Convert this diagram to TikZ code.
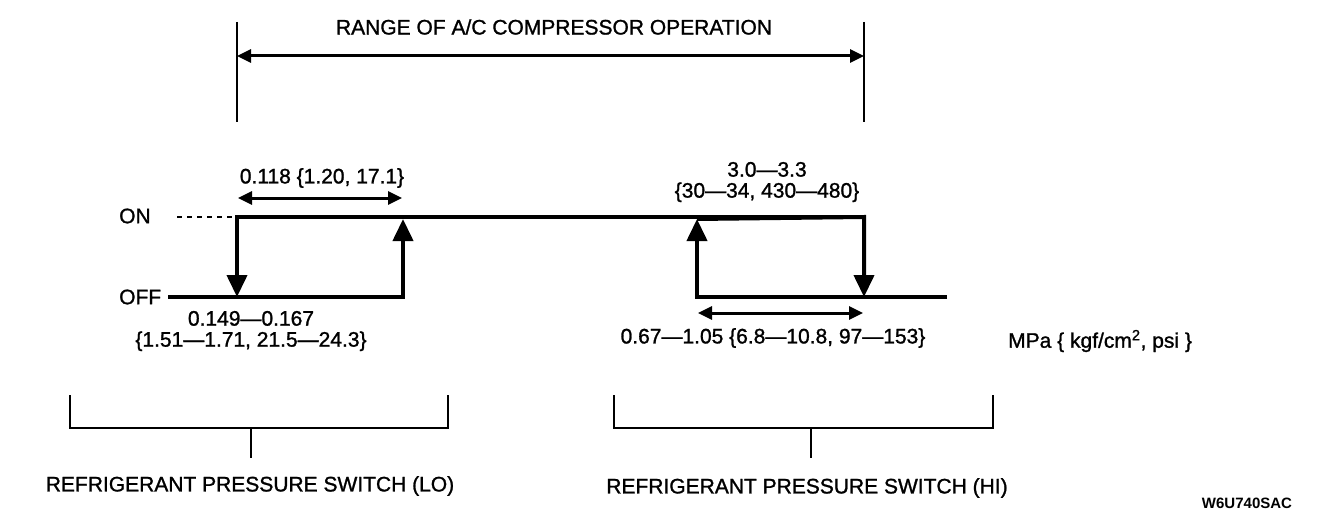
\documentclass[tikz,border=0pt]{standalone}
\usepackage{fontspec}
\setmainfont{Liberation Sans}
\newfontfamily\heavyfont[FakeBold=1.2]{Liberation Sans}
\usetikzlibrary{arrows.meta}
\begin{document}
\begin{tikzpicture}[x=1pt,y=-1pt,
  lbl/.style={font=\heavyfont\fontsize{21}{21}\selectfont,inner sep=0pt,align=center},
  wave/.style={line width=4pt},
  flip/.style={wave,-{Triangle[length=22pt,width=20pt]}},
  dim/.style={line width=3pt,{Triangle[length=14pt,width=13pt]}-{Triangle[length=14pt,width=13pt]}},
  brk/.style={line width=2pt}]
  \useasboundingbox (0,0) rectangle (1344,532);
  % range of compressor operation
  \coordinate (rl0) at (237,22); \coordinate (rl1) at (237,122);
  \coordinate (rr0) at (864,22); \coordinate (rr1) at (864,122);
  \coordinate (rl) at (237,56); \coordinate (rr) at (864,56);
  \draw[brk] (rl0)--(rl1) (rr0)--(rr1);
  \draw[dim] (rl)--(rr);
  \node[lbl] (title) at (554,27) {RANGE OF A/C COMPRESSOR OPERATION};
  % switch states
  \node[lbl,anchor=west] (on) at (119,216) {ON};
  \node[lbl,anchor=west] (off) at (119,297) {OFF};
  \coordinate (dot) at (177,217); \coordinate (offst) at (168,297);
  \coordinate (lon) at (237,217); \coordinate (loff) at (237,297);
  \coordinate (lup) at (403,297); \coordinate (lupt) at (403,219);
  \coordinate (hup) at (697,297); \coordinate (hupt) at (697,219);
  \coordinate (hdn) at (864,217); \coordinate (hdnb) at (864,297);
  \coordinate (hend) at (947,297);
  \draw[line width=1.5pt,dash pattern=on 5pt off 5pt] (dot)--(lon);
  \draw[flip] (hdn)--(lon)--(loff);
  \draw[flip] (offst)--(lup)--(lupt);
  \draw[flip] (hend)--(hup)--(hupt);
  \draw[flip] (hupt)--(hdn)--(hdnb);
  % hysteresis
  \coordinate (l1) at (238,198); \coordinate (l2) at (402,198);
  \coordinate (h1) at (698,313); \coordinate (h2) at (863,313);
  \draw[dim] (l1)--(l2);
  \draw[dim] (h1)--(h2);
  \node[lbl] (lohys) at (322,178) {0.118 \{1.20, 17.1\}};
  \node[lbl] (loon) at (251,331) {0.149—0.167\\\{1.51—1.71, 21.5—24.3\}};
  \node[lbl] (hioff) at (767,182) {3.0—3.3\\\{30—34, 430—480\}};
  \node[lbl] (hihys) at (773,338) {0.67—1.05 \{6.8—10.8, 97—153\}};
  \node[lbl,anchor=west] (unit) at (1008,341) {MPa \{ kgf/cm\textsuperscript{2}, psi \}};
  % switches
  \coordinate (bl1) at (70,395); \coordinate (bl2) at (448,395);
  \coordinate (blm) at (251,428); \coordinate (bls) at (251,458);
  \coordinate (bh1) at (614,395); \coordinate (bh2) at (993,395);
  \coordinate (bhm) at (811,428); \coordinate (bhs) at (811,458);
  \draw[brk] (bl1)|-(blm)-|(bl2) (blm)--(bls);
  \draw[brk] (bh1)|-(bhm)-|(bh2) (bhm)--(bhs);
  \node[lbl] (lonm) at (250,486) {REFRIGERANT PRESSURE SWITCH (LO)};
  \node[lbl] (hinm) at (807,488) {REFRIGERANT PRESSURE SWITCH (HI)};
  \node[font=\bfseries\fontsize{15}{15}\selectfont,inner sep=0pt] (code) at (1247,503) {W6U740SAC};
\end{tikzpicture}
\end{document}
